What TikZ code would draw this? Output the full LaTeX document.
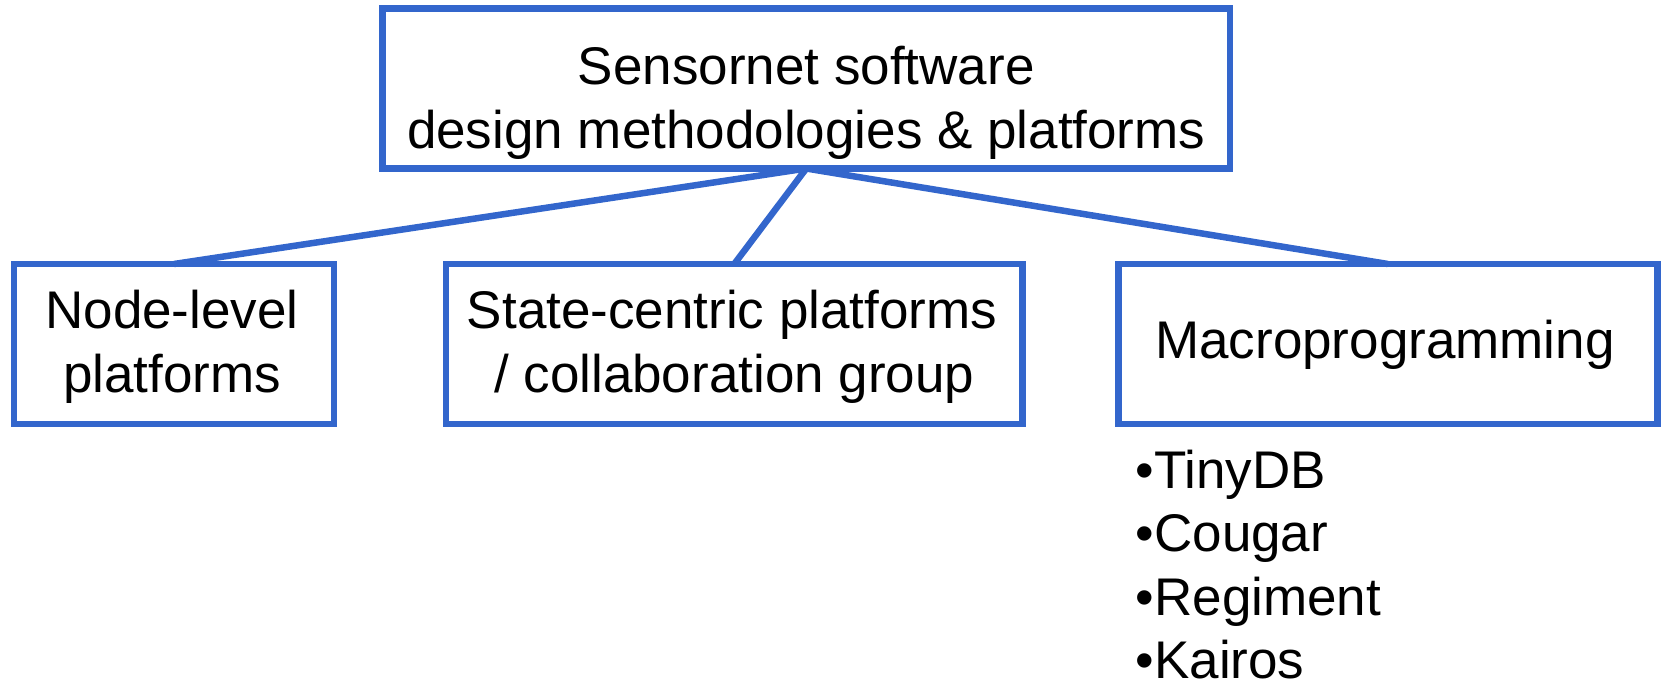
\documentclass[tikz,border=0pt]{standalone}
\usepackage{fontspec}
\setmainfont{Liberation Sans}
\definecolor{boxblue}{HTML}{3366CC}
\tikzset{
  box/.style={draw=boxblue, line width=6.5pt, rectangle, inner sep=0pt, outer sep=0pt},
  link/.style={draw=boxblue, line width=6.5pt},
  txt/.style={font=\fontsize{53}{63.6}\selectfont, inner sep=0pt, anchor=base},
  item/.style={txt, anchor=base west}
}
\begin{document}
\begin{tikzpicture}[x=1pt, y=-1pt]
  \useasboundingbox (0,0) rectangle (1661,683);

  % boxes
  \node[box, minimum width=847.5pt, minimum height=160.2pt] (top) at (806.25,88.4) {};
  \node[box, minimum width=320pt, minimum height=160pt] (node) at (174,344) {};
  \node[box, minimum width=576.5pt, minimum height=160pt] (state) at (734.25,344) {};
  \node[box, minimum width=539.2pt, minimum height=160pt] (macro) at (1387.9,344) {};

  % box captions
  \node[txt] (top1) at (806.25,84.7) {Sensornet software};
  \node[txt] (top2) at (806.25,148.3) {design methodologies \& platforms};
  \node[txt] (node1) at (172,328.4) {Node-level};
  \node[txt] (node2) at (172,392) {platforms};
  \node[txt] (state1) at (732,328.4) {State-centric platforms};
  \node[txt] (state2) at (734.25,392) {/ collaboration group};
  \node[txt] (macro1) at (1385,358) {Macroprogramming};

  % connectors
  \draw[link] (top.south) -- (node.north);
  \draw[link] (top.south) -- (state.north);
  \draw[link] (top.south) -- (macro.north);

  % macroprogramming systems
  \node[item] (i1) at (1135.5,488) {•TinyDB};
  \node[item] (i2) at (1135.5,551.5) {•Cougar};
  \node[item] (i3) at (1135.5,615) {•Regiment};
  \node[item] (i4) at (1135.5,678) {•Kairos};
\end{tikzpicture}
\end{document}
